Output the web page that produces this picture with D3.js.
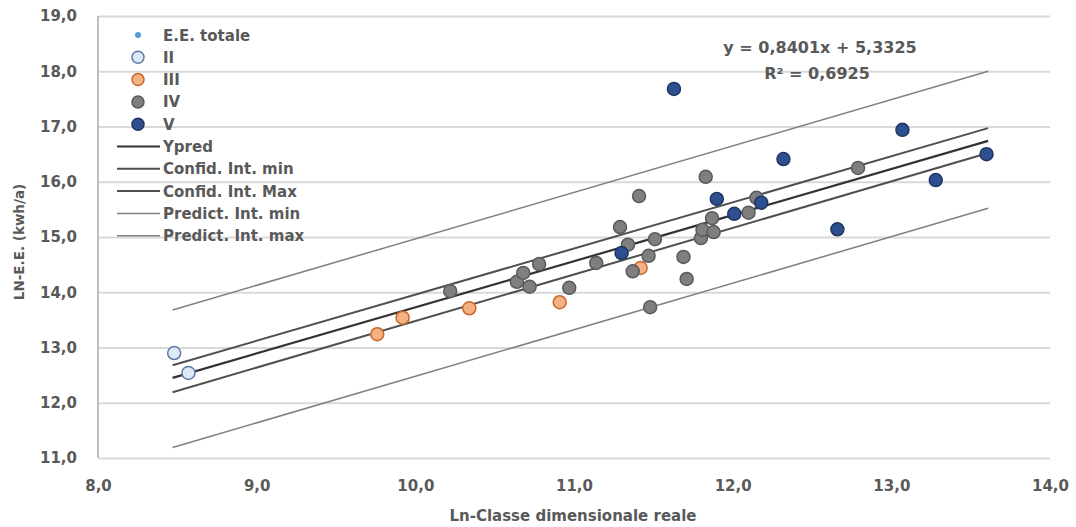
<!DOCTYPE html>
<html><head><meta charset="utf-8">
<script src="https://cdn.jsdelivr.net/npm/d3@7"></script>
<style>body{margin:0;background:#fff;}svg{display:block;font-family:"DejaVu Sans",Verdana,sans-serif;}</style>
</head><body><svg id="c" width="1076" height="527"></svg>
<script>
// ---- data ----
const xTicks = [8, 9, 10, 11, 12, 13, 14];
const yTicks = [11, 12, 13, 14, 15, 16, 17, 18, 19];
const iiX = [8.48, 8.57];
const iiY = [12.90, 12.54];
const iiiX = [9.76, 9.92, 10.34, 10.91, 11.42];
const iiiY = [13.24, 13.54, 13.71, 13.82, 14.44];
const ivX = [10.22, 10.64, 10.68, 10.72, 10.78, 10.97, 11.14, 11.29, 11.34, 11.37, 11.41, 11.47, 11.48, 11.51, 11.69, 11.71, 11.80, 11.81, 11.83, 11.87, 11.88, 12.10, 12.15, 12.79];
const ivY = [14.02, 14.19, 14.35, 14.10, 14.51, 14.08, 14.53, 15.18, 14.86, 14.38, 15.74, 14.66, 13.73, 14.96, 14.64, 14.24, 14.98, 15.13, 16.09, 15.34, 15.09, 15.44, 15.71, 16.25];
const vX = [11.30, 11.63, 11.90, 12.01, 12.18, 12.32, 12.66, 13.07, 13.28, 13.60];
const vY = [14.71, 17.68, 15.69, 15.42, 15.62, 16.41, 15.14, 16.94, 16.03, 16.50];
const lineX = [8.47, 13.61];
const ypredY = [12.45, 16.74];
const confMinY = [12.19, 16.52];
const confMaxY = [12.68, 16.97];
const predMinY = [11.19, 15.52];
const predMaxY = [13.68, 18.00];
const equation = "y = 0,8401x + 5,3325";
const r2Label = "R² = 0,6925";
const xTitle = "Ln-Classe dimensionale reale";
const yTitle = "LN-E.E. (kwh/a)";

// ---- chart ----
const svg = d3.select("#c");
const x = d3.scaleLinear().domain([8, 14]).range([98, 1050]);
const y = d3.scaleLinear().domain([11, 19]).range([458, 16]);
const fmt = d => d.toFixed(1).replace(".", ",");
const txt = "#595959";

// gridlines
const yAxis = d3.axisLeft(y).tickValues(yTicks).tickSize(-(1050 - 98)).tickFormat(fmt).tickPadding(21);
const gy = svg.append("g").attr("transform", "translate(98,0)").call(yAxis);
gy.select(".domain").remove();
gy.selectAll(".tick line").attr("stroke", "#d9d9d9").attr("stroke-width", 2);
gy.selectAll(".tick text").attr("fill", txt).attr("font-size", 15).attr("font-weight", "bold")
  .attr("font-family", "DejaVu Sans");

const xAxis = d3.axisBottom(x).tickValues(xTicks).tickSize(0).tickFormat(fmt).tickPadding(22);
const gx = svg.append("g").attr("transform", "translate(0,458)").call(xAxis);
gx.select(".domain").remove();
gx.selectAll(".tick text").attr("fill", txt).attr("font-size", 15).attr("font-weight", "bold")
  .attr("font-family", "DejaVu Sans");

// y axis line
svg.append("line").attr("x1", 98).attr("x2", 98).attr("y1", y(19)).attr("y2", y(11))
  .attr("stroke", "#bfbfbf").attr("stroke-width", 2);

// regression lines
const lineDefs = [
  {name: "Predict. Int. min", ys: predMinY, color: "#808080", w: 1.5},
  {name: "Predict. Int. max", ys: predMaxY, color: "#808080", w: 1.5},
  {name: "Confid. Int. min", ys: confMinY, color: "#505050", w: 2},
  {name: "Confid. Int. Max", ys: confMaxY, color: "#505050", w: 2},
  {name: "Ypred", ys: ypredY, color: "#333333", w: 2.2}
];
const lg = d3.line().x(d => x(d[0])).y(d => y(d[1]));
lineDefs.forEach(l => {
  svg.append("path").attr("d", lg(lineX.map((xv, i) => [xv, l.ys[i]])))
    .attr("fill", "none").attr("stroke", l.color).attr("stroke-width", l.w);
});

// points
const series = [
  {name: "II", xs: iiX, ys: iiY, fill: "#dde9f6", stroke: "#5b7ca8"},
  {name: "III", xs: iiiX, ys: iiiY, fill: "#f4b183", stroke: "#c8672a"},
  {name: "IV", xs: ivX, ys: ivY, fill: "#7f7f7f", stroke: "#5a5a5a"},
  {name: "V", xs: vX, ys: vY, fill: "#2e4f8f", stroke: "#1f3564"}
];
// E.E. totale (all points, small)
const allX = [].concat(iiX, iiiX, ivX, vX), allY = [].concat(iiY, iiiY, ivY, vY);
svg.append("g").selectAll("circle").data(allX).join("circle")
  .attr("cx", d => x(d)).attr("cy", (d, i) => y(allY[i])).attr("r", 3).attr("fill", "#5b9bd5");
series.forEach(s => {
  svg.append("g").selectAll("circle").data(s.xs).join("circle")
    .attr("cx", d => x(d)).attr("cy", (d, i) => y(s.ys[i])).attr("r", 6.5)
    .attr("fill", s.fill).attr("stroke", s.stroke).attr("stroke-width", 1.5);
});

// equation
svg.append("text").attr("x", 820).attr("y", 53).attr("text-anchor", "middle")
  .attr("fill", txt).attr("font-size", 16).attr("font-weight", "bold").text(equation);
svg.append("text").attr("x", 817).attr("y", 79).attr("text-anchor", "middle")
  .attr("fill", txt).attr("font-size", 16).attr("font-weight", "bold").text(r2Label);

// titles
svg.append("text").attr("x", 573).attr("y", 521).attr("text-anchor", "middle")
  .attr("fill", txt).attr("font-size", 15).attr("font-weight", "bold").text(xTitle);
svg.append("text").attr("transform", "translate(24,242) rotate(-90)").attr("text-anchor", "middle")
  .attr("fill", txt).attr("font-size", 13.5).attr("font-weight", "bold").text(yTitle);

// legend
const leg = svg.append("g");
const rowY = i => 35 + i * 22.3;
const legItems = [
  {name: "E.E. totale", type: "dot"},
  ...series.map(s => ({name: s.name, type: "pt", s})),
  {name: "Ypred", type: "line", l: lineDefs[4]},
  {name: "Confid. Int. min", type: "line", l: lineDefs[2]},
  {name: "Confid. Int. Max", type: "line", l: lineDefs[3]},
  {name: "Predict. Int. min", type: "line", l: lineDefs[0]},
  {name: "Predict. Int. max", type: "line", l: lineDefs[1]}
];
legItems.forEach((it, i) => {
  const yy = rowY(i);
  if (it.type === "dot") leg.append("circle").attr("cx", 138).attr("cy", yy).attr("r", 3).attr("fill", "#5b9bd5");
  else if (it.type === "pt") leg.append("circle").attr("cx", 138).attr("cy", yy).attr("r", 6)
    .attr("fill", it.s.fill).attr("stroke", it.s.stroke).attr("stroke-width", 1.5);
  else leg.append("line").attr("x1", 117).attr("x2", 160).attr("y1", yy).attr("y2", yy)
    .attr("stroke", it.l.color).attr("stroke-width", it.l.w);
  leg.append("text").attr("x", 163).attr("y", yy + 5.5).attr("fill", txt)
    .attr("font-size", 15).attr("font-weight", "bold").text(it.name);
});
</script></body></html>
